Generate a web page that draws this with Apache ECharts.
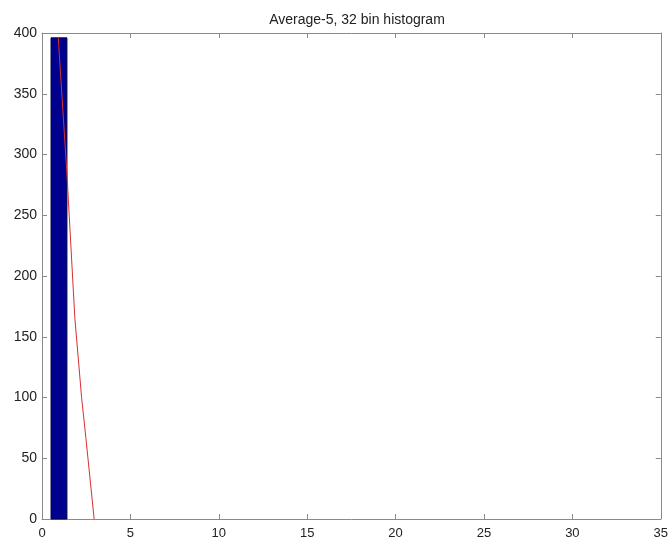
<!DOCTYPE html>
<html>
<head>
<meta charset="utf-8">
<script src="https://cdn.jsdelivr.net/npm/echarts@6/dist/echarts.min.js"></script>
<style>
html,body{margin:0;padding:0;background:#fff;}
#chart{width:671px;height:540px;}
</style>
</head>
<body>
<div id="chart"></div>
<script>
// Histogram bins (left edge, right edge) and counts
const binLeft = [0.51];
const binRight = [1.41];
const binCounts = [396];
// Red fitted curve
const curveX = [0.92, 1.41, 1.86, 2.24, 2.48, 2.95];
const curveY = [396, 284, 165, 100, 67, 0];
const titleText = 'Average-5, 32 bin histogram';

const barData = binLeft.map((l, i) => [l, binRight[i], binCounts[i]]);
const lineData = curveX.map((x, i) => [x, curveY[i]]);

const axisColor = '#8a8a8a';
const fontFam = 'Liberation Sans, Arial, sans-serif';

function mkX(pos, showLabel) {
  return {
    type: 'value', position: pos, min: 0, max: 35, interval: 5,
    axisLine: {show: true, onZero: false, lineStyle: {color: axisColor, width: 1}},
    axisTick: {show: true, inside: true, length: 5, lineStyle: {color: axisColor}},
    axisLabel: {show: showLabel, margin: 8, color: '#222', fontFamily: fontFam, fontSize: 13},
    splitLine: {show: false}
  };
}
function mkY(pos, showLabel) {
  return {
    type: 'value', position: pos, min: 0, max: 400, interval: 50,
    axisLine: {show: true, onZero: false, lineStyle: {color: axisColor, width: 1}},
    axisTick: {show: true, inside: true, length: 5, lineStyle: {color: axisColor}},
    axisLabel: {show: showLabel, margin: 5, color: '#222', fontFamily: fontFam, fontSize: 14},
    splitLine: {show: false}
  };
}

const chart = echarts.init(document.getElementById('chart'), null, {renderer: 'canvas'});
chart.setOption({
  animation: false,
  backgroundColor: '#fff',
  title: {
    text: titleText, left: 352, top: 8, textAlign: 'center',
    textStyle: {fontFamily: fontFam, fontSize: 14, fontWeight: 'normal', color: '#222'}
  },
  grid: {left: 42, right: 9, top: 33, bottom: 18, containLabel: false},
  xAxis: [mkX('bottom', true), mkX('top', false)],
  yAxis: [mkY('left', true), mkY('right', false)],
  series: [
    {
      type: 'custom',
      xAxisIndex: 0, yAxisIndex: 0,
      data: barData,
      encode: {x: [0, 1], y: 2},
      renderItem: function (params, api) {
        const p0 = api.coord([api.value(0), api.value(2)]);
        const p1 = api.coord([api.value(1), 0]);
        return {
          type: 'rect',
          shape: {x: p0[0], y: p0[1], width: p1[0] - p0[0], height: p1[1] - p0[1]},
          style: {fill: '#00008f', stroke: '#000040', lineWidth: 1}
        };
      }
    },
    {
      type: 'line',
      xAxisIndex: 0, yAxisIndex: 0,
      data: lineData,
      symbol: 'none',
      lineStyle: {color: '#d83030', width: 1},
      z: 5
    }
  ]
});
</script>
</body>
</html>
